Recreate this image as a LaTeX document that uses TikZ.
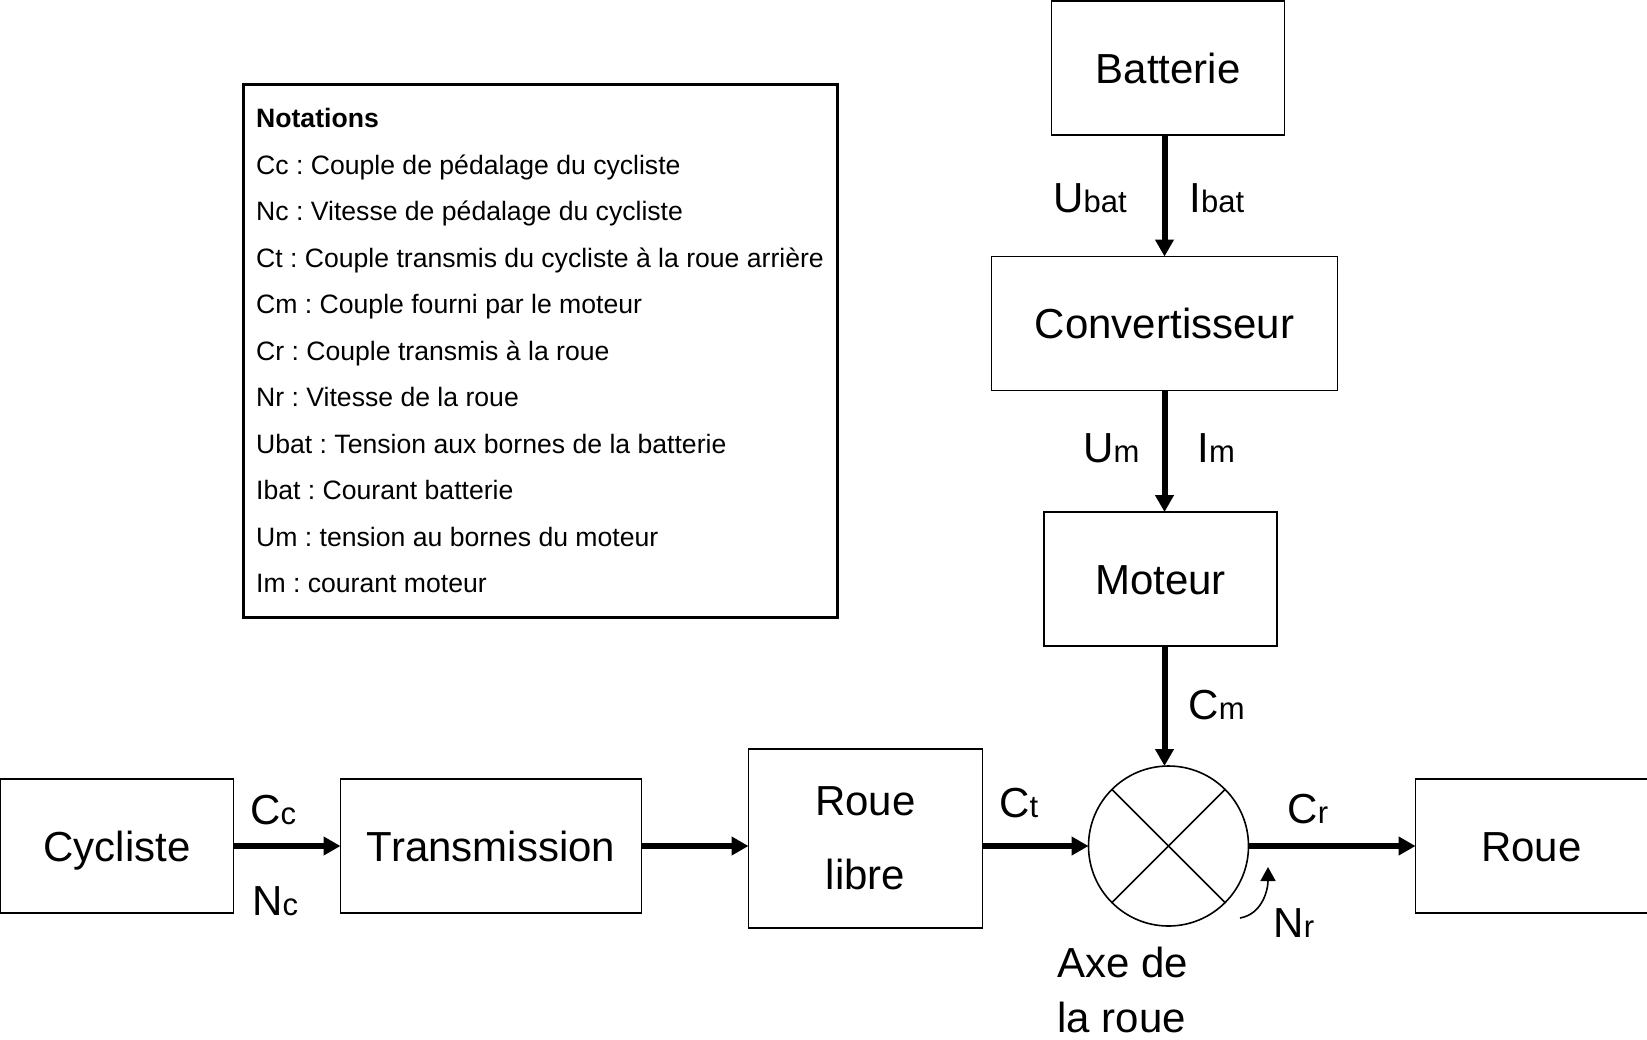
\documentclass[tikz,border=0pt]{standalone}
\usepackage{fontspec}
\setmainfont{Liberation Sans}
\usetikzlibrary{positioning,arrows.meta}
\frenchspacing
\newcommand{\grand}{\fontsize{21}{25}\selectfont}
\newcommand{\petit}{\fontsize{15.5}{18}\selectfont}
\newcommand{\grandeur}[2]{{\grand #1}{\petit #2}}

\tikzset{
  bloc/.style={draw, line width=0.8pt, inner sep=0pt, outer sep=0pt,
    minimum height=67pt, font=\grand, text height=15pt, text depth=0pt},
  blocdouble/.style={draw, line width=0.8pt, inner sep=0pt, outer sep=0pt,
    align=center, font=\fontsize{21}{37}\selectfont},
  somme/.style={draw, circle, line width=0.8pt, inner sep=0pt, outer sep=0pt,
    minimum size=80pt},
  fleche/.style={line width=3pt, -{Triangle[length=8.5pt,width=9pt]}},
  croix/.style={line width=0.75pt},
  rotation/.style={line width=0.8pt, -{Triangle[length=7pt,width=7.5pt]}},
  etiq/.style={inner sep=0pt, anchor=base west},
  notes/.style={draw, line width=1.5pt, inner sep=0pt,
    minimum width=297pt, minimum height=266.5pt,
    align=left, font=\fontsize{13.3}{23.25}\selectfont}
}

\begin{document}
\begin{tikzpicture}[x=0.5pt, y=-0.5pt]
  \useasboundingbox (0,0) rectangle (1647,1039);

  % Define nodes
  \node[bloc, minimum width=116.5pt]                        (cycliste) at (117,846) {Cycliste};
  \node[bloc, minimum width=150.5pt, right=53.5pt of cycliste] (transmission) {Transmission};
  \node[blocdouble, minimum width=117pt, minimum height=89.5pt,
        right=53.5pt of transmission, yshift=3.75pt]        (rouelibre) {Roue\\libre};
  \node[somme, right=53pt of rouelibre, yshift=-3.75pt]     (axe) {};
  \node[bloc, minimum width=116pt, right=83.5pt of axe]     (roue) {Roue};
  \node[bloc, minimum width=116.5pt, above=60pt of axe, xshift=-4pt] (moteur) {Moteur};
  \node[bloc, minimum width=173pt, above=60.75pt of moteur, xshift=2pt] (convertisseur) {Convertisseur};
  \node[bloc, minimum width=116.5pt, above=60.75pt of convertisseur, xshift=1.75pt] (batterie) {Batterie};

  % Notations
  \node[notes] (notations) at (540,350.5) {\textbf{Notations}\\
    Cc : Couple de pédalage du cycliste\\
    Nc : Vitesse de pédalage du cycliste\\
    Ct : Couple transmis du cycliste à la roue arrière\\
    Cm : Couple fourni par le moteur\\
    Cr : Couple transmis à la roue\\
    Nr : Vitesse de la roue\\
    Ubat : Tension aux bornes de la batterie\\
    Ibat : Courant batterie\\
    Um : tension au bornes du moteur\\
    Im : courant moteur};

  % Labels
  \node[etiq] (cc)   at (250,824)  {\grandeur{C}{c}};
  \node[etiq] (nc)   at (252,915)  {\grandeur{N}{c}};
  \node[etiq] (ubat) at (1053,212) {\grandeur{U}{bat}};
  \node[etiq] (ibat) at (1189,212) {\grandeur{I}{bat}};
  \node[etiq] (um)   at (1083,462) {\grandeur{U}{m}};
  \node[etiq] (im)   at (1197,462) {\grandeur{I}{m}};
  \node[etiq] (cm)   at (1188,719) {\grandeur{C}{m}};
  \node[etiq] (ct)   at (999,817)  {\grandeur{C}{t}};
  \node[etiq] (cr)   at (1287,823) {\grandeur{C}{r}};
  \node[etiq] (nr)   at (1273,937) {\grandeur{N}{r}};
  \node[inner sep=0pt, anchor=north west, align=left,
        font=\fontsize{21}{27.5}\selectfont] (axelabel) at (1057,947) {Axe de\\la roue};

  % Connect the nodes
  \draw[fleche] (cycliste) -- (transmission);
  \draw[fleche] (transmission) -- (transmission -| rouelibre.west);
  \draw[fleche] (rouelibre.east |- axe) -- (axe);
  \draw[fleche] (axe) -- (roue);
  \draw[fleche] (batterie.south -| convertisseur) -- (convertisseur);
  \draw[fleche] (convertisseur) -- (convertisseur |- moteur.north);
  \draw[fleche] (moteur.south -| convertisseur) -- (convertisseur |- axe.north);
  \draw[croix] (axe.north west) -- (axe.south east);
  \draw[croix] (axe.north east) -- (axe.south west);

  \coordinate (nrdebut) at (1240,918);
  \coordinate (nrfin) at (1268,867);
  \draw[rotation] (nrdebut) to[out=10, in=-90] (nrfin);

\end{tikzpicture}
\end{document}
